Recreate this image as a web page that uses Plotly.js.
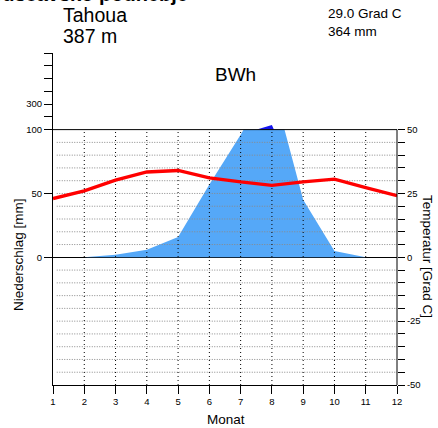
<!DOCTYPE html>
<html>
<head>
<meta charset="utf-8">
<script src="https://cdn.plot.ly/plotly-3.0.1.min.js"></script>
<style>
  html, body { margin: 0; padding: 0; background: #fff; }
  #chart { width: 438px; height: 428px; }
</style>
</head>
<body>
<div id="chart"></div>
<script>
// ---- data ----
const months = [1, 2, 3, 4, 5, 6, 7, 8, 9, 10, 11, 12];
const monthLabels = ["1", "2", "3", "4", "5", "6", "7", "8", "9", "10", "11", "12"];
const precipMM = [0, 0, 2, 6, 16, 57, 96, 137, 45, 5, 0, 0];
const tempC = [23.0, 26.0, 30.2, 33.4, 34.0, 31.1, 29.5, 28.2, 29.5, 30.6, 27.3, 24.1];
const stationName = "Tahoua";
const stationElev = "387 m";
const climateClass = "BWh";
const meanTempText = "29.0 Grad C";
const totalPrecipText = "364 mm";
const headerText = "Vroče puščavsko podnebje";
const precipTickVals = [0, 50, 100, 200, 300, 400, 500, 600, 700];
const precipTickText = ["0", "50", "100", "", "300", "", "", "", ""];
const tempTickVals = [-50, -45, -40, -35, -30, -25, -20, -15, -10, -5, 0, 5, 10, 15, 20, 25, 30, 35, 40, 45, 50];
const tempTickText = tempTickVals.map(v => (v % 25 === 0 ? String(v) : ""));

// ---- scale helpers (precip -> display units, same as degC) ----
const rawDisp = p => p / 2;
const compDisp = p => (p <= 100 ? p / 2 : 50 + (p - 100) / 20);

// polyline clipped/floored at level 50, inserting crossing points
function clipped(vals, mode) {
  const xs = [], ys = [];
  for (let i = 0; i < vals.length; i++) {
    const v = vals[i];
    xs.push(months[i]);
    ys.push(mode === "min" ? Math.min(v, 50) : Math.max(v, 50));
    if (i < vals.length - 1) {
      const a = vals[i] - 50, b = vals[i + 1] - 50;
      if (a * b < 0) {
        const f = a / (a - b);
        xs.push(months[i] + f * (months[i + 1] - months[i]));
        ys.push(50);
      }
    }
  }
  return { xs, ys };
}
const light = clipped(precipMM.map(rawDisp), "min");
const dark = clipped(precipMM.map(compDisp), "max");

// ---- pixel helpers for layout text ----
const L = 53, R = 41, T = 53, B = 43, W = 438, H = 428;
const pw = W - L - R, ph = H - T - B;
const px = x => (x - L) / pw;
const py = y => (H - B - y) / ph;

const traces = [];
traces.push({ x: light.xs, y: light.ys, type: "scatter", mode: "lines",
  line: { width: 0, color: "#55a8f8" }, fill: "tozeroy", fillcolor: "#55a8f8",
  hoverinfo: "skip", showlegend: false });
traces.push({ x: dark.xs, y: dark.xs.map(() => 50), type: "scatter", mode: "lines",
  line: { width: 0 }, hoverinfo: "skip", showlegend: false });
traces.push({ x: dark.xs, y: dark.ys, type: "scatter", mode: "lines",
  line: { width: 0, color: "#1515ee" }, fill: "tonexty", fillcolor: "#1515ee",
  hoverinfo: "skip", showlegend: false });

// grid lines (drawn above the fill, as in the reference)
tempTickVals.filter(v => v > -50 && v < 50 && v !== 0).forEach(v => {
  traces.push({ x: [months[0] + 0.12, months[months.length - 1]], y: [v, v], type: "scatter",
    mode: "lines", line: { color: "#8a8a8a", width: 1, dash: "1px,1.5px" },
    hoverinfo: "skip", showlegend: false });
});
months.slice(1, -1).forEach(m => {
  traces.push({ x: [m, m], y: [-50, 50], type: "scatter", mode: "lines",
    line: { color: "#000", width: 1, dash: "1px,3px" }, hoverinfo: "skip", showlegend: false });
});

traces.push({ x: months, y: tempC, type: "scatter", mode: "lines", yaxis: "y2",
  line: { color: "#ff0000", width: 3.3 }, hoverinfo: "skip", showlegend: false });

const tickFont = { family: "Liberation Sans, Arial, sans-serif", size: 9.5, color: "#000" };
const txt = (text, x, y, size, opts) => Object.assign({
  text, xref: "paper", yref: "paper", x: px(x), y: py(y), showarrow: false,
  xanchor: "left", yanchor: "middle",
  font: { family: "Liberation Sans, Arial, sans-serif", size, color: "#000" }
}, opts || {});

const layout = {
  width: W, height: H,
  margin: { l: L, r: R, t: T, b: B, pad: 0 },
  paper_bgcolor: "#fff", plot_bgcolor: "#fff",
  showlegend: false,
  xaxis: { range: [1, 12], tickvals: months, ticktext: monthLabels, ticks: "outside",
    ticklen: 8, tickcolor: "#000", showline: true, linecolor: "#000", linewidth: 1,
    showgrid: false, zeroline: false, tickfont: tickFont, fixedrange: true },
  yaxis: { range: [-50, 80], tickvals: precipTickVals.map(compDisp), ticktext: precipTickText,
    ticks: "outside", ticklen: 8, tickcolor: "#000", showline: true, linecolor: "#000",
    linewidth: 1, showgrid: false, zeroline: true, zerolinecolor: "#000", zerolinewidth: 1,
    tickfont: tickFont, fixedrange: true },
  yaxis2: { range: [-50, 80], overlaying: "y", side: "right", tickvals: tempTickVals,
    ticktext: tempTickText, ticks: "outside", ticklen: 7, tickcolor: "#000",
    showline: false, showgrid: false, zeroline: false, tickfont: tickFont, fixedrange: true },
  shapes: [
    { type: "line", xref: "paper", yref: "y", x0: 0, x1: 1, y0: 50, y1: 50,
      line: { color: "#000", width: 1 } },
    { type: "line", xref: "paper", yref: "y", x0: 1, x1: 1, y0: -50, y1: 50,
      line: { color: "#000", width: 1 } }
  ],
  annotations: [
    txt(headerText, 190, -6, 20, { xanchor: "right", font: { family: "Liberation Sans, Arial, sans-serif", size: 20, color: "#000", weight: "bold" } }),
    txt(stationName, 61, 15.5, 19.5),
    txt(stationElev, 61, 36, 19.5),
    txt(climateClass, 235, 74, 19, { xanchor: "center" }),
    txt(meanTempText, 326, 13.5, 13.5),
    txt(totalPrecipText, 326, 31.5, 13.5),
    txt("Monat", 225.5, 419.5, 13.5, { xanchor: "center" }),
    txt("Niederschlag [mm]", 18, 255, 13.5, { xanchor: "center", textangle: -90 }),
    txt("Temperatur [Grad C]", 428, 256, 13.5, { xanchor: "center", textangle: 90 })
  ]
};

Plotly.newPlot("chart", traces, layout, { staticPlot: true, displayModeBar: false });
</script>
</body>
</html>
